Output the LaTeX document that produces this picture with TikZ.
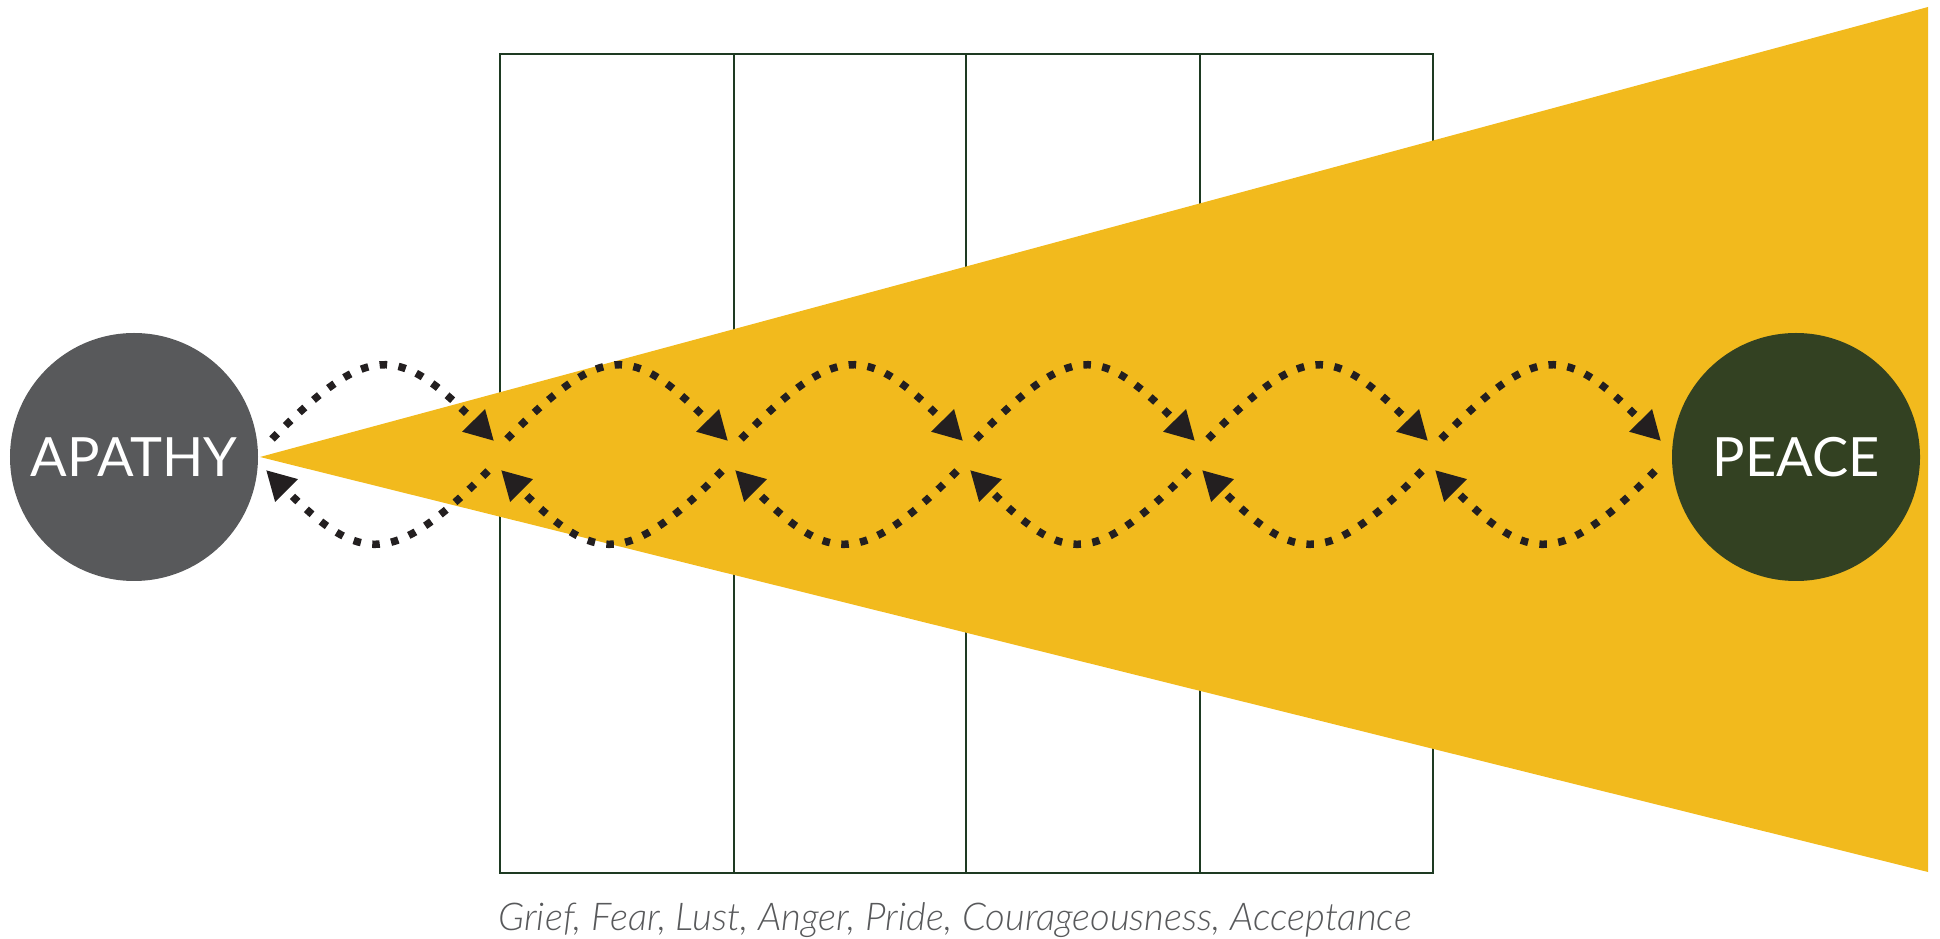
\documentclass[tikz,border=0pt]{standalone}
\usepackage{fontspec}
\setmainfont{Lato}
\newfontfamily\captionfont{Lato}[UprightFont={* Light Italic}]
\usepackage{tikz}
\usetikzlibrary{arrows.meta,positioning,calc}
\usepackage{xcolor}
\definecolor{apathygray}{HTML}{58595B}
\definecolor{peacegreen}{HTML}{334122}
\definecolor{coneyellow}{HTML}{F2BA1D}
\definecolor{gridgreen}{HTML}{1E3A22}
\definecolor{dotblack}{HTML}{231F20}
\tikzset{
  state/.style={circle,minimum size=2.48cm,inner sep=0pt,text=white,font=\fontsize{15.4}{18}\selectfont},
  loop arrow/.style={dotblack,line width=0.075cm,dash pattern=on 0.075cm off 0.115cm,-{Triangle[length=0.29cm,width=0.30cm]}}
}

\begin{document}
\begin{tikzpicture}
    \useasboundingbox (0,0) rectangle (19.40,9.38);
    % the four columns behind the cone
    \draw[gridgreen,line width=0.02cm] (5.00,0.65) rectangle (14.33,8.84);
    \foreach \x in {7.34,9.66,12.00}{
        \draw[gridgreen,line width=0.02cm] (\x,0.65) -- (\x,8.84);
    }
    \fill[coneyellow] (2.60,4.81) -- (19.28,9.31) -- (19.28,0.66) -- cycle;
    \node[state,fill=apathygray] (apathy) at (1.34,4.81) {APATHY};
    \node[state,fill=peacegreen] (peace) at (17.96,4.81) {PEACE};
    \node[anchor=base,text=apathygray,font=\fontsize{10.9}{13}\selectfont\captionfont] (levels) at (9.55,0.08)
        {Grief, Fear, Lust, Anger, Pride, Courageousness, Acceptance};
    % crossing points of the loops
    \coordinate (c0) at (2.62,4.81);
    \coordinate (c1) at (4.97,4.81);
    \coordinate (c2) at (7.31,4.81);
    \coordinate (c3) at (9.66,4.81);
    \coordinate (c4) at (11.98,4.81);
    \coordinate (c5) at (14.31,4.81);
    \coordinate (c6) at (16.64,4.81);
    \foreach \i [count=\j from 1] in {0,...,5}{
        \draw[loop arrow] ($(c\i)+(0.10,0.18)$) .. controls +(0.96,0.97) and +(-0.96,0.97) .. ($(c\j)+(-0.03,0.16)$);
        \draw[loop arrow] ($(c\j)+(-0.09,-0.14)$) .. controls +(-0.95,-0.95) and +(0.95,-0.95) .. ($(c\i)+(0.04,-0.13)$);
    }
\end{tikzpicture}
\end{document}
